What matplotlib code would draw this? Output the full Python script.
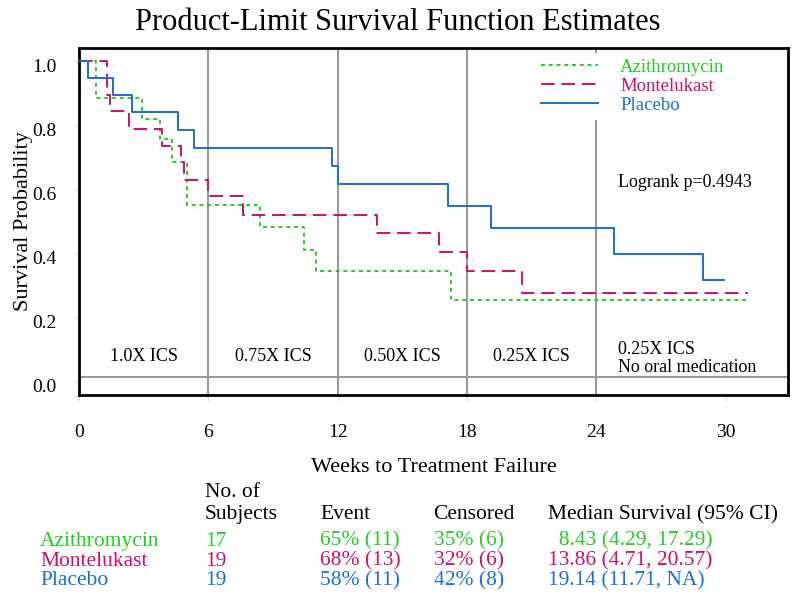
import matplotlib.pyplot as plt
import matplotlib.transforms as mtransforms

plt.rcParams['font.family'] = ['Liberation Serif', 'DejaVu Serif']

# Kaplan-Meier step estimates (weeks, survival)
azi_t = [0, 0.8, 2.9, 3.73, 4.3, 5.0, 8.4, 10.44, 11.0, 17.25, 30.95]
azi_s = [1.0, 0.883, 0.818, 0.755, 0.685, 0.548, 0.479, 0.409, 0.342, 0.253, 0.253]

mon_t = [0, 1.31, 1.45, 2.32, 3.86, 4.73, 4.87, 6.0, 7.58, 13.84, 16.7, 17.99, 20.54, 31.06]
mon_s = [1.0, 0.894, 0.842, 0.788, 0.734, 0.684, 0.628, 0.576, 0.519, 0.461, 0.401, 0.344, 0.274, 0.274]

pla_t = [0, 0.43, 1.59, 2.47, 4.58, 5.31, 11.72, 11.99, 17.14, 19.12, 24.83, 28.94, 29.93]
pla_s = [1.0, 0.946, 0.894, 0.840, 0.784, 0.727, 0.672, 0.615, 0.545, 0.477, 0.397, 0.316, 0.316]

groups = ['Azithromycin', 'Montelukast', 'Placebo']
colors = ['#22cc22', '#cc1166', '#1a6fd1']

phase_breaks = [6, 12, 18, 24]
phase_labels = ['1.0X ICS', '0.75X ICS', '0.50X ICS', '0.25X ICS']
phase_centers = [3, 9, 15, 21]
last_phase = '0.25X ICS\nNo oral medication'

x_ticks = [0, 6, 12, 18, 24, 30]
y_ticks = [0.0, 0.2, 0.4, 0.6, 0.8, 1.0]

# summary table
n_subj = ['17', '19', '19']
events = ['65% (11)', '68% (13)', '58% (11)']
censored = ['35% (6)', '32% (6)', '42% (8)']
median = ['  8.43 (4.29, 17.29)', '13.86 (4.71, 20.57)', '19.14 (11.71, NA)']

fig = plt.figure(figsize=(8, 6), dpi=100)
ax = fig.add_axes([0.099, 0.342, 0.886, 0.578])

for xb in phase_breaks:
    ax.axvline(xb, color='#999999', lw=1.5, zorder=1)
ax.axhline(0.0125, color='#999999', lw=1.5, zorder=1)

ax.step(azi_t, azi_s, where='post', color=colors[0], lw=1.4,
        dashes=(2, 2), label=groups[0], zorder=3)
ax.step(mon_t, mon_s, where='post', color=colors[1], lw=1.4,
        dashes=(7, 3.5), label=groups[1], zorder=3)
ax.step(pla_t, pla_s, where='post', color=colors[2], lw=1.4,
        label=groups[2], zorder=3)

ax.set_xlim(0, 32.9)
ax.set_ylim(-0.044, 1.04)
ax.set_xticks(x_ticks)
ax.set_yticks(y_ticks)
ax.set_yticklabels(['%.1f' % v for v in y_ticks])
ax.tick_params(axis='both', colors='#dddddd', labelcolor='black',
               labelsize=14, length=4, width=0.8)
ax.tick_params(axis='x', pad=17)
ax.tick_params(axis='y', pad=12)
# the y labels sit a little below their ticks in the original
shift = mtransforms.ScaledTranslation(0, -0.05, fig.dpi_scale_trans)
for lab in ax.get_yticklabels():
    lab.set_transform(lab.get_transform() + shift)
for sp in ax.spines.values():
    sp.set_linewidth(2)
    sp.set_color('black')

for c, lab in zip(phase_centers, phase_labels):
    ax.text(c, 0.075, lab, ha='center', va='center', fontsize=13)
ax.text(25.0, 0.07, last_phase, ha='left', va='center', fontsize=13,
        linespacing=1.05)
ax.text(25.0, 0.62, 'Logrank p=0.4943', ha='left', va='center', fontsize=13)

leg = ax.legend(loc='upper left', bbox_to_anchor=(0.644, 0.985), fontsize=13.5,
                frameon=True, handlelength=3.0, handletextpad=1.2,
                labelspacing=0.1, borderpad=0.3, borderaxespad=0)
leg.get_frame().set_edgecolor('none')
leg.get_frame().set_facecolor('white')
leg.get_frame().set_alpha(1)
for txt, c in zip(leg.get_texts(), colors):
    txt.set_color(c)

ax.set_ylabel('Survival Probability', fontsize=16)
ax.yaxis.set_label_coords(-0.065, 0.5)
ax.set_xlabel('Weeks to Treatment Failure', fontsize=16, labelpad=12)
fig.text(0.497, 0.963, 'Product-Limit Survival Function Estimates',
         ha='center', va='center', fontsize=22)

# summary table below the plot
col_x = [0.05, 0.256, 0.4, 0.542, 0.685]
fs = 15.5
fig.text(col_x[1], 0.179, 'No. of', fontsize=fs, va='center')
fig.text(col_x[1], 0.1425, 'Subjects', fontsize=fs, va='center')
fig.text(col_x[2], 0.1425, 'Event', fontsize=fs, va='center')
fig.text(col_x[3], 0.1425, 'Censored', fontsize=fs, va='center')
fig.text(col_x[4], 0.1425, 'Median Survival (95% CI)', fontsize=fs, va='center')
row_y = [0.098, 0.065, 0.032]
for i in range(3):
    vals = [groups[i], n_subj[i], events[i], censored[i], median[i]]
    for x, v in zip(col_x, vals):
        fig.text(x, row_y[i], v, color=colors[i], fontsize=fs, va='center')

fig.savefig('out.png', dpi=100)
